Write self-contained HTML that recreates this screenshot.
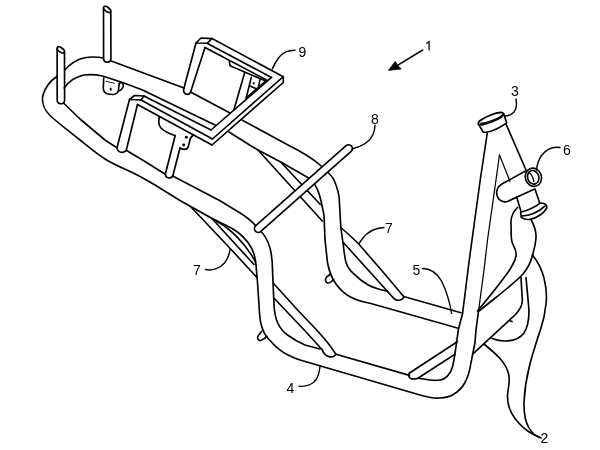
<!DOCTYPE html>
<html>
<head>
<meta charset="utf-8">
<title>Frame drawing</title>
<style>
html,body{margin:0;padding:0;background:#fff;}
body{width:600px;height:450px;overflow:hidden;font-family:"Liberation Sans",sans-serif;}
svg{display:block;position:absolute;left:0;top:0;will-change:transform;}
.l{fill:none;stroke:#000;stroke-width:1.65;stroke-linecap:round;stroke-linejoin:round;}
.w{fill:#fff;stroke:#000;stroke-width:1.65;stroke-linecap:round;stroke-linejoin:round;}
.t{font-family:"Liberation Sans",sans-serif;font-size:14px;fill:#000;}
</style>
</head>
<body>
<svg width="600" height="450" viewBox="0 0 600 450">
<rect width="600" height="450" fill="#fff"/>

<!-- ===== FRAME LOOP (top-left) ===== -->
<g class="l">
<!-- outer edge: post1 to post2 -->
<path d="M103.5,58 C97,56.8 89.5,56.8 83.5,58 C75.5,60 69.5,64.5 64.6,70.3"/>
<!-- outer edge: left of post 2, down along front rail -->
<path d="M57.1,76.2 C50,81 45,88 43,95 C41.5,102 44,110 50,115.5 C58,123 70,132 80,140 C90,148 98,154.5 105,159 C113,164 121,167.5 130,171.5 C140,176 148,181 155,185 L180,200.5 L211.7,218.3 L231.7,228.3 C240,233 247,240 251.7,248.3 C254,253 255.5,258 256,265 L257.5,282.5 L259,305 C259.5,315 260,320 261,324 C263,332 266,337 270,340.5 C275,346.5 281,351.5 288,355 C292,357 296,358.8 300,360 L420,395 C428,397.5 434,398.5 440,398 C446,397.5 450,396.5 452.5,395 C458,392 462,388 465,382.5 C468,377 470,370 471,362.5 L475,342.5 L476,330 L478.5,311"/>
<path d="M478.5,311 L479,307.5 L484,270 L487.5,240 L499.5,155" style="stroke-width:1.25"/>
<!-- inner edge of loop top -->
<path d="M64.3,88 C68,82 75,77 84,75 C92,74 98,75 102.5,76 L122.5,82.5 L142,89.8"/>
<!-- inner edge front rail from post 2 bottom -->
<path d="M64,103.5 L80,119 L105,140 L116.5,147.5"/>
<path d="M126.6,150.5 L142.5,160 L165.3,174.3"/>
<path d="M173.2,176.2 L220,200.8 L236,210.5 C244,215 250.5,220 255.5,225.5"/>
</g>

<!-- ===== FRONT RAIL: vertical part + bottom ===== -->
<g class="l">
<!-- inner edge after bar 8 end, going down, bending right -->
<path d="M260,230.5 C264,234 268,241 270,248 C272,256 272.5,262 272.5,270 L274,305 C274.5,313 275.5,318 277.5,322.5 C280,328 283,332 287.5,335 C293,339 299,342.5 305,345 L320,349"/>
<path d="M336,354.3 L409.5,375.4"/>
<!-- down tube left edge -->
<path d="M487.3,133 L480.5,178 L469,262 L462.5,314 L460.8,320 L458.3,330 L456.7,341.7 L455,353.3 C454,360 453.5,363 452.5,366.7 C451.5,370.5 450,373 448.3,375 C446,378 443,379.5 440,380 C436,380.6 433,380.5 430,380 L418.5,378.3"/>
</g>

<!-- ===== BACK RAIL ===== -->
<g class="l">
<!-- upper edge -->
<path d="M111.2,61 L184,88"/>
<path d="M190.5,92 L230,113"/>
<path d="M242,120 L265,132.5 L288,145 C300,151 312,158 320,165 C327,171 332,176 334,180 C337,187 339,193 339.3,200 L340.8,227.5 L343.3,245 C344,252 344.8,257 345.8,261.7 C347.5,267 350,270.5 353.3,273.3 C358,278 363,282 368.3,285 C374,288 380,289.8 387.5,291.3"/>
<path d="M403.7,296.5 L461,312.7"/>
<!-- lower edge -->
<path d="M142,89.8 L215,125"/>
<path d="M229,132 L250,145.3 L258,150 L280.7,162 L308.7,178 C311.5,180 314,183 315.3,185.3 C317.5,189 319,193 320,197 C320.7,199.7 320.8,200 321,201 L324,215 L325,240 L327.5,262.5 C328.8,270 331.5,278 336,284 C340,289.5 345,294 350,296.8 C356,300 363,302 370,303.3 L458.3,328.3"/>
</g>

<!-- ===== POSTS ===== -->
<g class="l">
<path d="M103.5,8 L103.6,59.5 C104.8,63.2 110,63.2 110.9,59.5 L110.8,11.5"/>
<ellipse cx="107.15" cy="9.4" rx="4.25" ry="2.1" transform="rotate(38 107.15 9.4)"/>
<path d="M57.1,48.5 L57.2,101 C58.4,104.7 63.6,104.7 64.6,101 L64.5,52"/>
<ellipse cx="60.8" cy="49.9" rx="4.3" ry="2.1" transform="rotate(38 60.8 49.9)"/>
</g>

<!-- ===== small hole bracket under top rail ===== -->
<g class="l">
<path d="M103.7,78 L103.3,88.5 C103.5,91.5 105.5,93.5 108.3,94 C110.5,94.5 112.5,94.6 114.3,94.3 C116.3,93.8 117.8,92.8 118.3,91.3 L119.3,83.3"/>
<path d="M119.5,83.3 C120.3,82.6 121.2,82.5 121.8,82.8 C123,83.5 123.6,84.5 123.3,85.8 C123,87.6 122.3,88.8 121.5,89.5 C120.8,90.2 119.8,90.6 119,90.7"/>
<path d="M106,81.3 L114.3,83.3" stroke-width="0.9"/>
<ellipse cx="110.7" cy="89.2" rx="1" ry="1.6" fill="#000" stroke="none"/>
</g>



<!-- ===== BRACKET 9 ===== -->
<g class="l">
<!-- back arm cap + leg -->
<path d="M196,43 L201,38 L212,38.6 L207,43.3 Z"/>
<path d="M196,43 L183.6,89.5 C183.4,92.5 185,94.3 187,94.4 C189,94.5 190.2,93.5 190.6,92 L205,47.5"/>
<!-- back arm lines -->
<path d="M212,38.6 L283.3,76.7"/>
<path d="M207,43.3 L271.5,77.4"/>
<path d="M205,47.5 L266.7,80"/>
<!-- corner tip -->
<path d="M283.3,76.7 L283.3,82.5"/>
<!-- cross segment -->
<path d="M271.5,77.4 L211,130"/>
<path d="M283.3,76.7 L212.5,139"/>
<path d="M283.3,82.5 L212,145"/>
<!-- front arm cap + leg -->
<path d="M129.5,99.5 L134.5,95.5 L144,96 L141,100 Z"/>
<path d="M129.5,99.5 L117.3,146.5 C116.8,149.5 118.3,151.6 120.8,152.2 C123.2,152.6 125.6,151.8 126.4,149.8 L137.5,104.5"/>
<!-- front arm lines -->
<path d="M144,96 L211,130"/>
<path d="M141,100 L212.5,139"/>
<path d="M137.5,104.5 L212,145"/>
<!-- back panel -->
<path d="M229.3,61 L230,65.7 L265.7,81"/>
<path d="M244.7,72.5 L234,109.5"/>
<path d="M251.3,77.3 L246.2,98"/>
<path d="M265.7,81 L246,98"/>
<!-- back small plate with hole -->
<path d="M250,86 L256.3,88.7"/>
<path d="M260,79.2 L258.6,86.8"/>
<ellipse cx="253.7" cy="83.3" rx="0.9" ry="1.4" fill="#000" stroke="none"/>
<!-- front panel notch + second leg -->
<path d="M159.3,117.5 C158.3,122 158.8,125.5 161,128 C164,131 170,134 175,135.5"/>
<path d="M175.2,135.5 L165.5,173.5 C165.2,176.2 166.8,177.8 169,177.9 C171.2,178 172.6,177 173,175.3 L180,148"/>
<path d="M180,148 C183,150 186.5,150 188,147.5 L189.7,141 C190,138.5 191,136.5 193.5,135"/>
<circle cx="186.3" cy="137.3" r="1.45" fill="#000" stroke="none"/>
<circle cx="183.7" cy="145" r="1.45" fill="#000" stroke="none"/>
</g>

<!-- ===== BRACE 7 (back) ===== -->
<g class="l">
<path d="M258,150 L322.3,221"/>
<path d="M280.7,162 L320.3,204.5"/>
</g>

<!-- ===== BRACE 7 (front-left) ===== -->
<g class="l">
<path d="M190.5,206.5 L230,248.3 L251,271 L257,277.5"/>
<path d="M211.7,218.3 L254,264.5"/>
<path d="M216,221 C230,228 246,244 255.5,262"/>
<path d="M273.6,283.5 L299.2,311.7 L316.7,330 C321,335 325.5,340 329.2,344.7 C332,348.2 334,351.2 335.8,354.2"/>
<path d="M274.6,298.8 L304.2,330 L315,341.7 L321.7,349.2"/>
<path d="M321.7,349.2 C323,352 324,353.5 325.5,354.8 C327,356 328.5,356.7 330,356.9 C332,357 333.5,356.6 334.6,355.8 C335.5,355.2 335.9,354.8 335.8,354.2"/>
<!-- peg left -->
<path d="M261.5,331.5 L258.3,335.5 C257,337.5 257.5,340 260,340.6 C262,340.8 264,339 267,336.5"/>
</g>

<!-- ===== BRACE 7 (right) ===== -->
<g class="l">
<path d="M340.8,227.5 C346,232 352,237.5 358.3,243.5 L385.6,275 L402.6,295.2"/>
<path d="M343.3,242.5 L393,297.5"/>
<path d="M393,297.5 C394.5,299.6 397,300.5 399.5,300.2 C402.2,299.7 404,298 403.6,296.3 L402.6,295.2"/>
<!-- peg -->
<path d="M330.5,274 L326.5,277.2 C324.8,279 325.2,282 327.5,283 C329.3,283.6 331,282 333.8,279.5"/>
</g>

<!-- ===== STUB BRACE bottom ===== -->
<g class="l">
<path d="M409.5,373 L457.3,341.7"/>
<path d="M417.5,378.5 L455,354.2"/>
<path d="M409.5,373 C408,375 408.8,377.6 411,378.6 C413,379.3 415.5,379 417.5,378.5"/>
</g>

<!-- ===== HEAD TUBE ===== -->
<g class="l">
<!-- collar top ellipse -->
<ellipse cx="490.9" cy="118.6" rx="13.6" ry="3.4" transform="rotate(-22 490.9 118.6)"/>
<path d="M480.6,123.4 C484,123.2 490,121.6 495,119.4 C498.5,117.8 501.2,116.2 502.6,114.6" style="stroke-width:1.2"/>
<path d="M478.3,124 L483.3,132.1 C487,132.6 492,131.2 496,129.2 C500,127.3 504,125 506.7,122.9 L503.6,113.6"/>
<!-- right tube -->
<path d="M506.2,124.5 L526,170"/>
<!-- inverted V -->
<path d="M499.5,155 L510,181.5" style="stroke-width:1.2"/>
<!-- down tube left edge short top piece -->
</g>

<!-- ===== TUBE 6 ===== -->
<g class="l">
<path d="M526,170.8 L502.3,183.8 C497.5,186.5 495.6,191.5 497.2,196 C499,200.8 503.5,203 508,201.2 L534,189.2"/>
<ellipse cx="533.4" cy="177.3" rx="8.1" ry="9.2" transform="rotate(-18 533.4 177.3)"/>
<ellipse cx="533.2" cy="177.3" rx="5.6" ry="6.9" transform="rotate(-18 533.2 177.3)"/>
<path d="M529.2,172.5 C531.5,174.5 533.5,178 533.8,181.8" style="stroke-width:1.2"/>
<!-- stub with flange -->
<path d="M516.7,197.2 L521,211.5"/>
<path d="M535,189 L539.8,203.3"/>
<path d="M520.6,212.3 C526,210.8 535,207 539.8,203.3 C542,203 544.5,203.5 545.8,204.6 C547.2,206 547.2,207.5 546,209.3 C544.5,211.5 542.5,213.5 540.5,214.8 C537,217.2 533.5,218.8 530.4,219.3 C527.5,219.8 524,219.3 521.3,217.3 Z"/>
<path d="M522.3,215.8 C526,215.8 530,215 533.5,213.5 C538,211.6 542,209 544.8,206.2"/>
</g>

<!-- ===== WAVY / BREAK LINES ===== -->
<g class="l">
<path d="M517.5,207.5 C513,212 510.5,218 511,224 C511.5,232 510.5,236 512,242 C514,248 517,250 516,256 C515,262 510,270 503,279 C495,290 485,302 477.5,311"/>
<path d="M531,219.5 C534,225 536.5,231 536,238 C535.5,246 534,250 532.5,255 C531,262 528,268 523,274 C515,283 500,294 479,311"/>
<path d="M532.5,255 C538,262 542,270 544,278 C546.5,288 547,296 546,304 C545,314 543,322 541,328 C537,340 532,355 529,368 C526,380 524.5,392 524,402 C523.8,412 525,421 528.5,427 C531,432 536,436.5 541,438"/>
<path d="M484,344 C490,349 496,354 500,358.5 C505,364 508,370 509,376 C510,384 507.5,390 507.5,396 C507.5,404 510,412 515,418.5 C520,425 526,430.5 532.5,434 L540,437.5"/>
<!-- box -->
<path d="M521,277.5 L522.3,300 C522.5,305 520,310 515,315 L473.5,353.3"/>
<path d="M526,277.5 L528.8,308 C529.3,318 528,327 524,333 C520,338.5 512,341 505,341 C500,341 496,340 492,338.5"/>
<path d="M509.5,320.5 L512,321.5" stroke-width="1.8"/>
</g>

<!-- ===== BAR 8 ===== -->
<g fill="none" stroke-linecap="round">
<path d="M258.3,228.6 L348.6,148.6" stroke="#000" stroke-width="9.3"/>
<path d="M258.3,228.6 L348.6,148.6" stroke="#fff" stroke-width="6.0"/>
</g>

<!-- ===== LEADERS ===== -->
<g class="l" style="stroke-width:1.4">
<!-- 9 -->
<path d="M295,50.3 C288.5,50.2 283,52.5 279.3,57 C276,61.2 273.8,65 272.3,69"/>
<!-- 8 -->
<path d="M352,149 C362,146.5 369.5,142 372.8,135 C374.3,131.5 375,128.5 375,125.3"/>
<!-- 3 -->
<path d="M516,99 C517,105 516.5,110 513,113 C510,115.5 507,116 504.5,116"/>
<!-- 6 -->
<path d="M560,147.5 C553,146.5 546,149.5 541.5,155.5 C538.5,160 537,165 536.5,170"/>
<!-- 7 right -->
<path d="M384,227.5 C375,228 367,232.5 362.5,238.5 L359,243.5"/>
<!-- 7 left -->
<path d="M205.5,269.5 C212,271 220,268.5 224.5,263 C228,258.5 229.5,254 230.3,248.6"/>
<!-- 5 -->
<path d="M422.5,268.5 C430,268.5 437,273 441.5,281 C446,290 449.5,300.5 451.6,313.3"/>
<!-- 4 -->
<path d="M299,386.2 C306,387 313,384.5 316.5,379 C318.5,375.5 319.5,371 320,366.5"/>
<!-- 1 arrow -->
<path d="M422.7,50 L397.5,65.3" stroke-width="1.5"/>
</g>
<path d="M388.4,70.4 L395.3,61.3 L397.6,65.2 L401.2,69 Z" fill="#000" stroke="#000" stroke-width="0.7" stroke-linejoin="round"/>

<!-- ===== LABELS ===== -->
<path d="M426.2,43.6 L429.1,41.6 L429.1,50.4" fill="none" stroke="#000" stroke-width="1.25" stroke-linejoin="miter"/>
<g class="t">

<text x="540.5" y="443.2">2</text>
<text x="511" y="96">3</text>
<text x="286.5" y="392.5">4</text>
<text x="412.5" y="275">5</text>
<text x="563" y="155">6</text>
<text x="385" y="233">7</text>
<text x="193" y="275">7</text>
<text x="371" y="123.7">8</text>
<text x="298.5" y="57">9</text>
</g>

</svg>
</body>
</html>
